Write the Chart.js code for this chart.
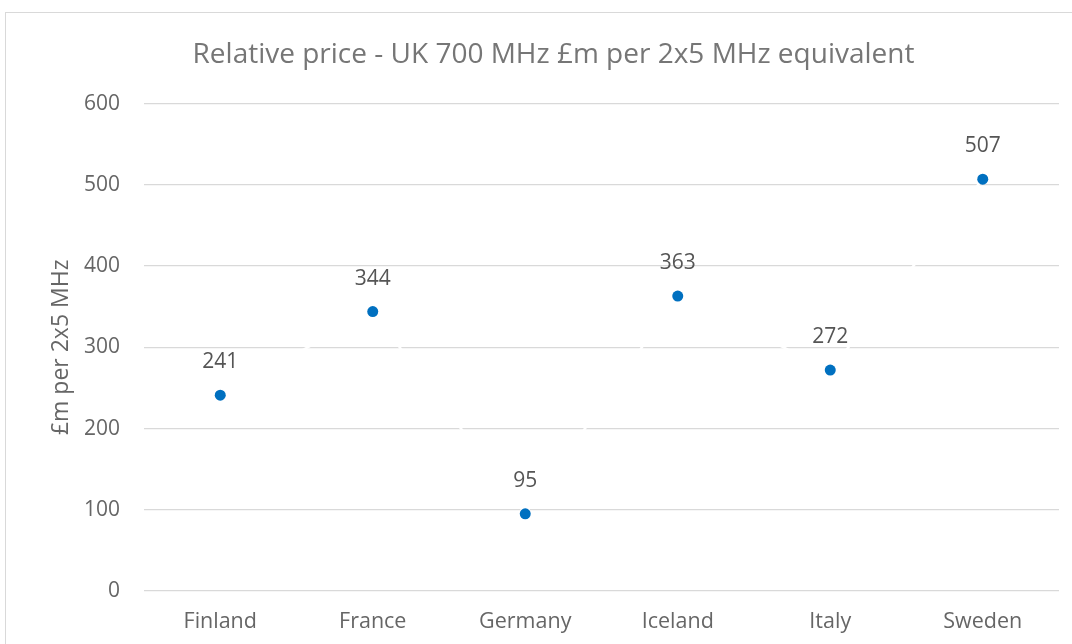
<!DOCTYPE html>
<html lang="en">
<head>
    <meta charset="UTF-8">
    <title>Relative price - UK 700 MHz</title>
    <script src="https://cdnjs.cloudflare.com/ajax/libs/Chart.js/4.4.1/chart.umd.min.js"></script>
    <style>
        html, body {
            margin: 0;
            padding: 0;
            background: #fff;
            overflow: hidden;
        }
        .frame {
            position: absolute;
            left: 5px;
            top: 12px;
            width: 2000px;
            height: 2000px;
            border: 1px solid #d9d9d9;
        }
        .wrap {
            position: absolute;
            left: 0;
            top: 0;
            width: 1072px;
            height: 644px;
        }
    </style>
</head>
<body>
    <div class="frame"></div>
    <div class="wrap"><canvas id="priceChart"></canvas></div>

    <script>
        const countries = ["Finland", "France", "Germany", "Iceland", "Italy", "Sweden"];
        const prices = [241, 344, 95, 363, 272, 507];
        const yTicks = [0, 100, 200, 300, 400, 500, 600];

        const font = "'Open Sans', sans-serif";

        // draws the value above each point
        const valueLabels = {
            id: 'valueLabels',
            afterDatasetsDraw(chart) {
                const c = chart.ctx;
                const meta = chart.getDatasetMeta(0);
                c.save();
                c.font = "21px " + font;
                c.fillStyle = '#555555';
                c.textAlign = 'center';
                c.textBaseline = 'middle';
                meta.data.forEach((pt, i) => {
                    c.fillText(prices[i], pt.x, pt.y - 33);
                });
                c.restore();
            }
        };

        new Chart(document.getElementById('priceChart'), {
            type: 'line',
            data: {
                labels: countries,
                datasets: [{
                    data: prices,
                    showLine: true,
                    borderColor: '#ffffff',
                    borderWidth: 2.5,
                    pointRadius: 5.5,
                    pointBackgroundColor: '#0070C0',
                    pointBorderColor: '#0070C0',
                    pointBorderWidth: 0
                }]
            },
            options: {
                responsive: true,
                maintainAspectRatio: false,
                animation: false,
                layout: {
                    padding: { top: 38, right: 13, bottom: 9, left: 48 }
                },
                plugins: {
                    legend: { display: false },
                    tooltip: { enabled: false },
                    title: {
                        display: true,
                        text: 'Relative price - UK 700 MHz £m per 2x5 MHz equivalent',
                        color: '#767676',
                        font: { family: font, size: 28, weight: 'normal' },
                        padding: { top: 0, bottom: 32 }
                    }
                },
                scales: {
                    x: {
                        offset: true,
                        afterFit(scale) { scale.height = 44; },
                        grid: { display: false, drawTicks: false },
                        border: { display: false },
                        ticks: {
                            color: '#666666',
                            padding: 18,
                            font: { family: font, size: 21.5 }
                        }
                    },
                    y: {
                        min: 0,
                        max: 600,
                        afterFit(scale) { scale.width = 96; },
                        afterBuildTicks(scale) {
                            scale.ticks = yTicks.map(v => ({ value: v }));
                        },
                        grid: {
                            color: '#d9d9d9',
                            lineWidth: 1.3,
                            drawTicks: false
                        },
                        border: { display: false },
                        ticks: {
                            color: '#666666',
                            padding: 24,
                            font: { family: font, size: 21 }
                        },
                        title: {
                            display: true,
                            text: '£m per 2x5 MHz',
                            color: '#666666',
                            padding: 0,
                            font: { family: font, size: 23, weight: 'normal' }
                        }
                    }
                }
            },
            plugins: [valueLabels]
        });
    </script>
</body>
</html>
